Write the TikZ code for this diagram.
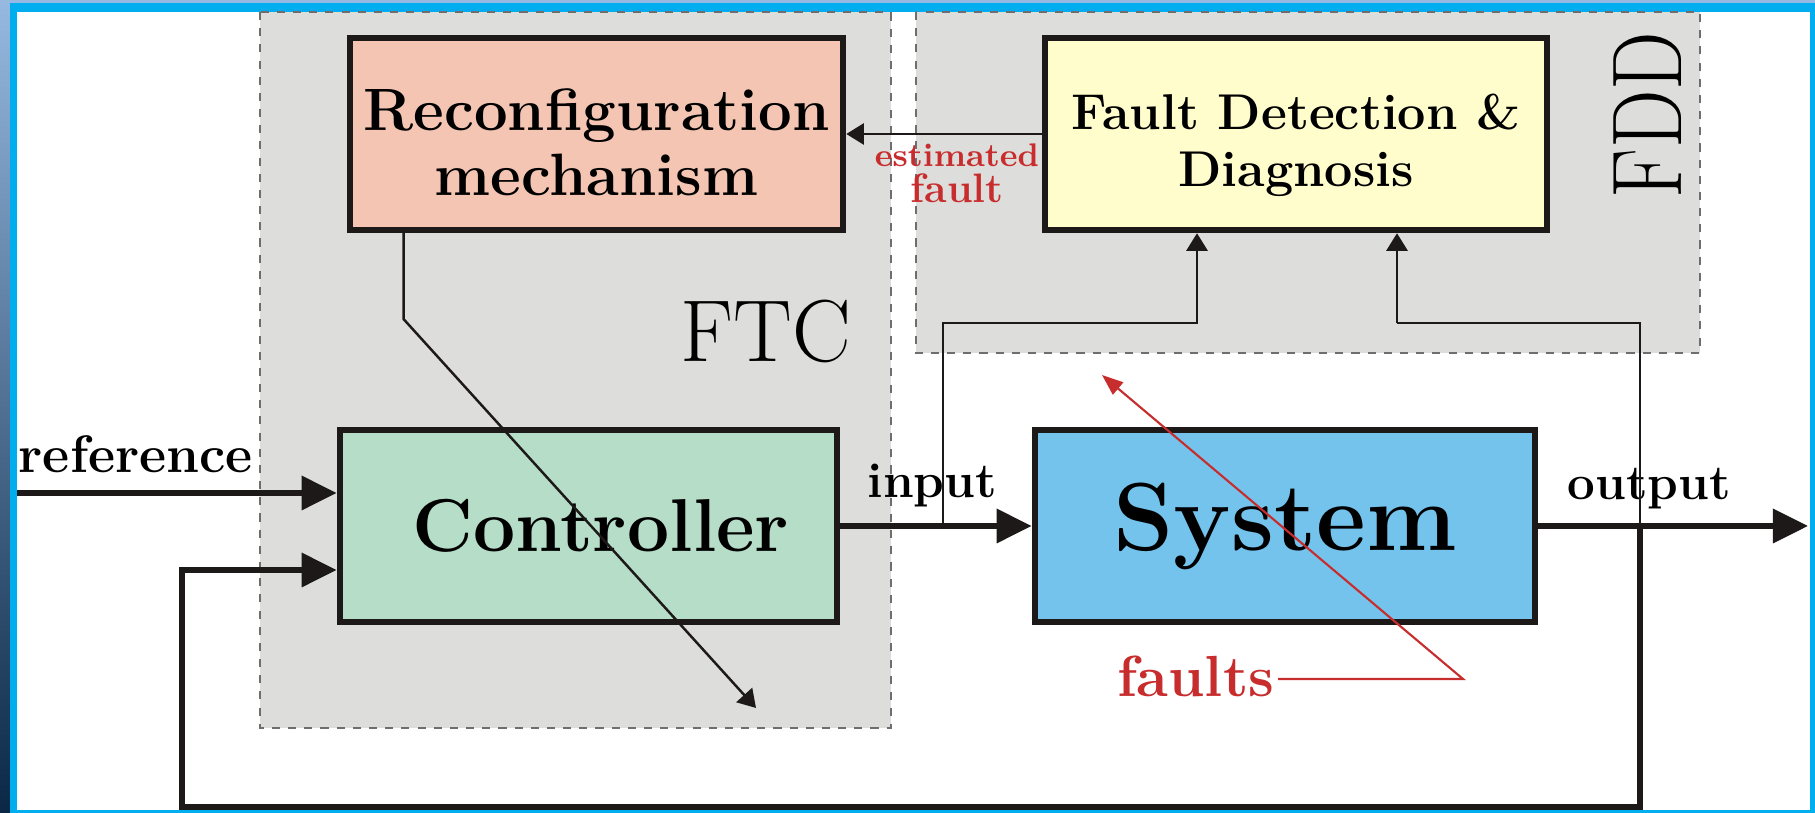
\documentclass[tikz,border=0pt]{standalone}
\usepackage{fontspec}
\usetikzlibrary{arrows.meta,calc}

\definecolor{reconfill}{RGB}{243,197,178}
\definecolor{fddfill}{RGB}{255,253,204}
\definecolor{ctrlfill}{RGB}{182,221,200}
\definecolor{sysfill}{RGB}{116,195,236}
\definecolor{regionfill}{RGB}{221,221,219}
\definecolor{dashc}{RGB}{110,110,110}
\definecolor{linec}{RGB}{30,25,25}
\definecolor{faultred}{RGB}{200,45,45}
\definecolor{slidetop}{RGB}{150,185,225}
\definecolor{slidemid}{RGB}{55,105,155}
\definecolor{slidebot}{RGB}{10,40,70}

\begin{document}
\begin{tikzpicture}[
        x=0.01cm, y=-0.01cm,
        blk/.style={draw=linec,line width=1.8pt,inner sep=0pt,align=center,
            minimum height=1.92cm},
        bus/.style={draw=linec,line width=1.6pt,-{Triangle[length=10pt,width=9.5pt]}},
        sig/.style={draw=linec,line width=0.7pt,-{Triangle[length=5pt,width=6pt]}},
        hint/.style={draw=faultred,line width=0.6pt,-{Triangle[length=6pt,width=4.5pt]}},
        region/.style={fill=regionfill,draw=dashc,line width=0.6pt,
            dash pattern=on 2.3pt off 2.3pt},
        lbl/.style={font=\bfseries\fontsize{14}{16}\selectfont,inner sep=0pt},
        redlbl/.style={text=faultred,inner sep=0pt}
    ]

    % Slide frame
    \shade[top color=slidetop,middle color=slidemid,bottom color=slidebot]
        (0,0) rectangle (1815,813);
    \useasboundingbox (0,0) rectangle (1815,813);
    \fill[cyan] (10,3) rectangle (1830,830);
    \fill[white] (17,12) rectangle (1810,810);

    % FTC and FDD regions
    \draw[region] (260,12) rectangle (891,728);
    \draw[region] (916,12) rectangle (1700,353);

    \node[font=\fontsize{25}{25}\selectfont,inner sep=0pt,anchor=base west]
        (ftclbl) at (680,362) {FTC};
    \node[font=\fontsize{23.5}{23.5}\selectfont,inner sep=0pt,rotate=90,yscale=1.2]
        (fddlbl) at (1648,115) {FDD};

    % Blocks
    \node[blk,fill=reconfill,minimum width=4.93cm,
        font=\bfseries\fontsize{17}{18.5}\selectfont]
        (reconf) at (596.5,134) {\rule{0pt}{16.5pt}Reconfiguration\\mechanism};
    \node[blk,fill=fddfill,minimum width=5.02cm,
        font=\bfseries\fontsize{14.3}{16}\selectfont]
        (fdd) at (1296,134) {\rule{0pt}{16.5pt}Fault Detection \&\\Diagnosis};
    \node[blk,fill=ctrlfill,minimum width=4.97cm,
        font=\bfseries\fontsize{21.3}{22}\selectfont]
        (ctrl) at (588.5,526) {\hspace{0.25cm}Controller};
    \node[blk,fill=sysfill,minimum width=5.00cm,
        font=\bfseries\fontsize{27.5}{28}\selectfont]
        (sys) at (1285,526) {System};

    % Signal points
    \coordinate (refin) at (17,493);
    \coordinate (fbin) at (182,570);
    \coordinate (inbr) at (943,526);
    \coordinate (outbr) at (1640,526);
    \coordinate (outend) at (1808,526);
    \coordinate (rtip) at (756,708);

    % Main loop
    \draw[bus] (refin) -- (refin -| ctrl.west);
    \draw[bus] (ctrl.east) -- (sys.west);
    \draw[bus] (sys.east) -- (outend);
    \draw[bus] (outbr) |- (182,807) -- (fbin) -- (fbin -| ctrl.west);

    \node[lbl,font=\bfseries\fontsize{15}{16}\selectfont,anchor=base west]
        (reflbl) at (18,473) {reference};
    \node[lbl,anchor=base west] (inlbl) at (867,498) {input};
    \node[lbl,anchor=base west] (outlbl) at (1567,500) {output};

    % Measurements to FDD
    \draw[sig] (inbr) |- (1197,323) -- ($(fdd.south)+(-99,0)$);
    \draw[line width=0.7pt,draw=linec] (outbr) -- (1640,323) -- (1397,323);
    \draw[sig] (1397,323) -- ($(fdd.south)+(101,0)$);

    % Estimated fault
    \draw[sig] (fdd.west) -- (reconf.east);
    \node[redlbl,font=\bfseries\fontsize{9.3}{10}\selectfont,anchor=base]
        (estlbl) at (957,167) {estimated};
    \node[redlbl,font=\bfseries\fontsize{11.7}{12}\selectfont,anchor=base]
        (fltlbl) at (957,203) {fault};

    % Reconfiguration acts on controller
    \draw[sig] ($(reconf.south west)+(57,0)$) -- ++(0,86) -- (rtip);

    % Faults
    \node[redlbl,font=\bfseries\fontsize{16.5}{18}\selectfont,anchor=base east]
        (faultslbl) at (1275,697) {faults};
    \coordinate (fkink) at (1463,679);
    \coordinate (ftip) at (1102,375);
    \draw[hint] ($(faultslbl.east |- fkink)+(3,0)$) -- (fkink) -- (ftip);

\end{tikzpicture}
\end{document}
